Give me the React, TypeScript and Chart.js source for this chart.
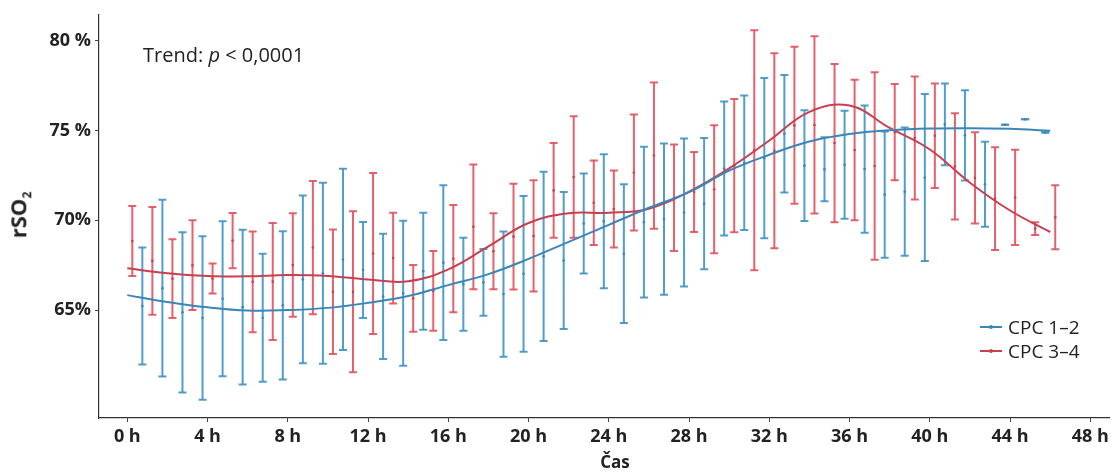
import React, { useEffect, useRef } from "react";
import { Chart, registerables } from "chart.js";

Chart.register(...registerables);

// hours (categories)
const HOURS = [0, 1, 2, 3, 4, 5, 6, 7, 8, 9, 10, 11, 12, 13, 14, 15, 16, 17, 18, 19, 20, 21, 22, 23, 24, 25, 26, 27, 28, 29, 30, 31, 32, 33, 34, 35, 36, 37, 38, 39, 40, 41, 42, 43, 44, 45, 46];

// CPC 1–2 (blue): mean and SD per hour (0..45)
const BLUE_MEAN = [65.22, 66.22, 64.87, 64.56, 65.63, 65.16, 64.57, 65.26, 66.71, 67.05, 67.82, 67.23, 65.76, 65.94, 67.16, 67.64, 66.44, 66.54, 65.89, 67.02, 67.99, 67.76, 69.82, 69.95, 68.14, 69.9, 70.07, 70.44, 70.93, 72.89, 73.21, 73.47, 74.83, 73.05, 72.85, 73.1, 72.86, 71.44, 71.6, 72.39, 75.35, 74.74, 72.01, 75.33, 75.63, 74.9];
const BLUE_SD = [3.26, 4.93, 4.47, 4.56, 4.32, 4.31, 3.57, 4.13, 4.68, 5.05, 5.05, 2.68, 3.49, 4.04, 3.26, 4.31, 2.59, 1.86, 3.49, 4.34, 4.72, 3.82, 2.79, 3.73, 3.87, 4.2, 4.22, 4.13, 3.66, 3.73, 3.75, 4.47, 3.28, 3.09, 1.78, 3.01, 3.55, 3.52, 3.58, 4.65, 2.28, 2.52, 2.37, 0, 0, 0];

// CPC 3–4 (red): mean and SD per hour (0..46)
const RED_MEAN = [68.85, 67.74, 66.75, 67.5, 66.76, 68.87, 66.57, 66.59, 67.51, 68.48, 66.02, 66.02, 68.15, 67.9, 65.65, 66.07, 67.86, 69.64, 68.28, 69.09, 69.13, 71.67, 72.42, 70.98, 70.63, 72.67, 73.61, 71.26, 71.58, 71.73, 73.05, 73.91, 73.88, 75.3, 75.32, 74.31, 73.92, 73.03, 74.92, 74.59, 74.72, 73.01, 72.37, 71.21, 71.28, 69.54, 70.17];
const RED_SD = [1.95, 3.0, 2.2, 2.5, 0.84, 1.54, 2.81, 3.26, 2.88, 3.71, 3.47, 4.49, 4.49, 2.53, 1.86, 2.22, 2.99, 3.48, 2.12, 2.95, 3.1, 2.64, 3.39, 2.35, 2.15, 3.23, 4.08, 2.97, 2.23, 3.57, 3.72, 6.69, 5.44, 4.38, 4.94, 4.41, 3.92, 5.22, 2.68, 3.43, 2.91, 2.96, 2.54, 2.86, 2.65, 0.36, 1.78];

// smoothed trend lines
const TREND_HOURS = [0, 2, 4, 6, 8, 10, 12, 14, 16, 18, 20, 22, 24, 26, 28, 30, 32, 34, 36, 38, 40, 42, 44, 46];
const BLUE_TREND = [65.83, 65.45, 65.15, 64.97, 65.0, 65.12, 65.4, 65.78, 66.39, 67.0, 67.85, 68.8, 69.75, 70.7, 71.57, 72.77, 73.66, 74.4, 74.81, 75.02, 75.12, 75.14, 75.1, 75.0];
const RED_TREND = [67.33, 67.05, 66.9, 66.88, 66.95, 66.9, 66.7, 66.6, 67.27, 68.55, 69.85, 70.4, 70.42, 70.65, 71.6, 72.9, 74.45, 76.05, 76.4, 75.15, 73.95, 72.1, 70.55, 69.35];

// ticks
const X_TICKS = [0, 4, 8, 12, 16, 20, 24, 28, 32, 36, 40, 44, 48];
const X_TICK_LABELS = ["0 h", "4 h", "8 h", "12 h", "16 h", "20 h", "24 h", "28 h", "32 h", "36 h", "40 h", "44 h", "48 h"];
const Y_TICKS = [65, 70, 75, 80];
const Y_TICK_LABELS = ["65%", "70%", "75 %", "80 %"];

const SERIES_NAMES = ["CPC 1–2", "CPC 3–4"];

const BLUE = "rgba(62,146,198,0.9)";
const BLUE_LINE = "#3a86b8";
const RED = "rgba(226,80,92,0.9)";
const RED_LINE = "#c8404f";
const BLUE_OFFSET = 0.75;
const RED_OFFSET = 0.25;
const FONT = "'Open Sans', 'Noto Sans', sans-serif";

function whiskers(mean: number[], sd: number[], offset: number) {
  const pts: { x: number; y: number | null }[] = [];
  mean.forEach((m, i) => {
    const x = HOURS[i] + offset;
    pts.push({ x, y: m - sd[i] }, { x, y: m + sd[i] }, { x, y: null });
  });
  return pts;
}

function means(mean: number[], offset: number) {
  return mean.map((m, i) => ({ x: HOURS[i] + offset, y: m }));
}

function trend(vals: number[]) {
  return vals.map((v, i) => ({ x: TREND_HOURS[i], y: v }));
}

export default function App() {
  const ref = useRef<HTMLCanvasElement | null>(null);

  useEffect(() => {
    if (!ref.current) return;
    const chart = new Chart(ref.current, {
      type: "line",
      data: {
        datasets: [
          {
            data: trend(BLUE_TREND),
            borderColor: BLUE_LINE,
            borderWidth: 2,
            pointRadius: 0,
            tension: 0.4,
            fill: false,
          },
          {
            data: trend(RED_TREND),
            borderColor: RED_LINE,
            borderWidth: 2,
            pointRadius: 0,
            tension: 0.4,
            fill: false,
          },
          {
            data: means(BLUE_MEAN, BLUE_OFFSET),
            showLine: false,
            pointRadius: 1.3,
            pointBorderWidth: 0,
            pointBackgroundColor: BLUE_LINE,
          },
          {
            data: means(RED_MEAN, RED_OFFSET),
            showLine: false,
            pointRadius: 1.3,
            pointBorderWidth: 0,
            pointBackgroundColor: RED_LINE,
          },
          {
            data: whiskers(BLUE_MEAN, BLUE_SD, BLUE_OFFSET),
            borderColor: BLUE,
            borderWidth: 2,
            spanGaps: false,
            pointStyle: "line",
            pointRadius: 4,
            pointBorderWidth: 2,
            pointBorderColor: BLUE,
            tension: 0,
          },
          {
            data: whiskers(RED_MEAN, RED_SD, RED_OFFSET),
            borderColor: RED,
            borderWidth: 2,
            spanGaps: false,
            pointStyle: "line",
            pointRadius: 4,
            pointBorderWidth: 2,
            pointBorderColor: RED,
            tension: 0,
          },
        ],
      },
      options: {
        animation: false,
        responsive: false,
        events: [],
        layout: { padding: { top: 13, right: 3, left: 0, bottom: 0 } },
        plugins: { legend: { display: false }, tooltip: { enabled: false } },
        scales: {
          x: {
            type: "linear",
            min: -1.41,
            max: 48.93,
            afterBuildTicks: (s: any) => {
              s.ticks = X_TICKS.map((v) => ({ value: v }));
            },
            afterFit: (s: any) => {
              s.height = 54;
            },
            ticks: {
              autoSkip: false,
              maxRotation: 0,
              padding: 4,
              color: "#222",
              font: { family: FONT, weight: "bold", size: 18 },
              callback: (v: any) => X_TICK_LABELS[X_TICKS.indexOf(Number(v))] ?? "",
            },
            grid: { display: true, drawOnChartArea: false, drawTicks: true, tickLength: 4, color: "#444", lineWidth: 1 },
            border: { display: true, color: "#333", width: 1.2 },
          },
          y: {
            type: "linear",
            min: 58.98,
            max: 81.46,
            afterBuildTicks: (s: any) => {
              s.ticks = Y_TICKS.map((v) => ({ value: v }));
            },
            afterFit: (s: any) => {
              s.width = 99;
            },
            ticks: {
              autoSkip: false,
              padding: 4,
              color: "#222",
              font: { family: FONT, weight: "bold", size: 18 },
              callback: (v: any) => Y_TICK_LABELS[Y_TICKS.indexOf(Number(v))] ?? "",
            },
            grid: { display: true, drawOnChartArea: false, drawTicks: true, tickLength: 4, color: "#444", lineWidth: 1 },
            border: { display: true, color: "#333", width: 1.2 },
          },
        },
      } as any,
    });
    return () => chart.destroy();
  }, []);

  const legendRow = (color: string, label: string, top: number) => (
    <div style={{ position: "absolute", left: 980, top, height: 26, display: "flex", alignItems: "center" }}>
      <div style={{ position: "relative", width: 22, height: 2, background: color }}>
        <div style={{ position: "absolute", left: 9, top: -1, width: 4, height: 4, borderRadius: 2, background: color }} />
      </div>
      <span style={{ marginLeft: 6, fontFamily: FONT, fontSize: 19, color: "#222", whiteSpace: "nowrap" }}>{label}</span>
    </div>
  );

  return (
    <div style={{ position: "absolute", left: 0, top: 0, width: 1115, height: 472, background: "#fff", overflow: "hidden" }}>
      <canvas ref={ref} width={1115} height={472} style={{ position: "absolute", left: 0, top: 0 }} />
      <div style={{ position: "absolute", left: 143, top: 42, fontFamily: FONT, fontSize: 20, lineHeight: "26px", color: "#222", whiteSpace: "nowrap" }}>
        Trend: <i>p</i> &lt; 0,0001
      </div>
      {legendRow(BLUE_LINE, SERIES_NAMES[0], 314)}
      {legendRow(RED_LINE, SERIES_NAMES[1], 338)}
      <div
        style={{
          position: "absolute",
          left: 19,
          top: 215,
          transform: "translate(-50%, -50%) rotate(-90deg)",
          fontFamily: FONT,
          fontWeight: "bold",
          fontSize: 22,
          color: "#222",
          whiteSpace: "nowrap",
        }}
      >
        rSO<sub style={{ fontSize: 12 }}>2</sub>
      </div>
      <div
        style={{
          position: "absolute",
          left: 615,
          top: 461,
          transform: "translate(-50%, -50%)",
          fontFamily: FONT,
          fontWeight: "bold",
          fontSize: 17,
          color: "#222",
          whiteSpace: "nowrap",
        }}
      >
        Čas
      </div>
    </div>
  );
}
